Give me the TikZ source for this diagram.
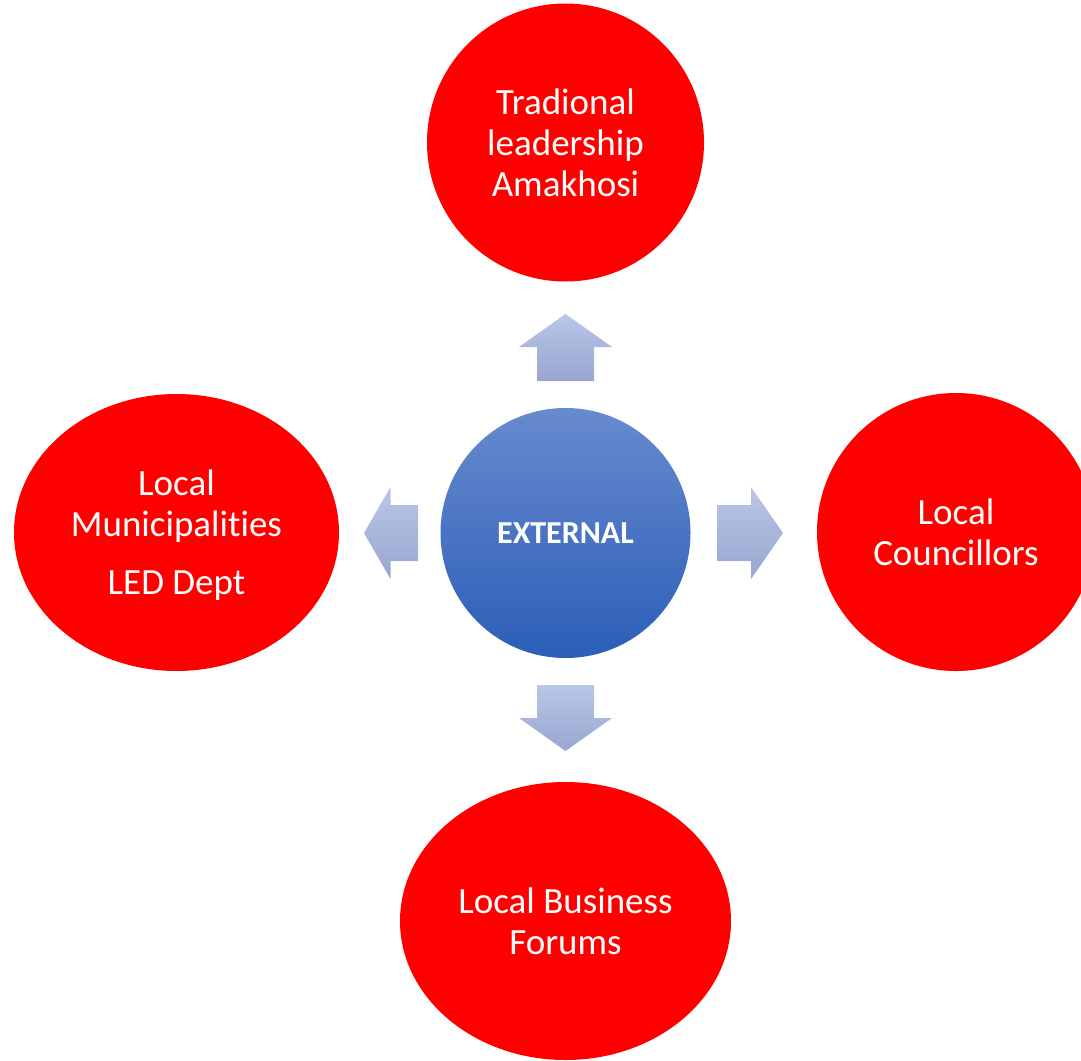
\documentclass[tikz,border=0pt]{standalone}
\usepackage{fontspec}
\setmainfont[Ligatures=NoCommon,RawFeature={-liga;-clig;-dlig}]{Carlito}
\usetikzlibrary{shapes.geometric}
\definecolor{ballred}{RGB}{255,0,0}
\definecolor{hubtop}{RGB}{104,138,206}
\definecolor{hubbot}{RGB}{44,94,184}
\definecolor{arrtop}{RGB}{186,198,232}
\definecolor{arrbot}{RGB}{152,166,208}
\tikzset{
  balltext/.style={text=white, align=center, inner sep=0pt, font=\fontsize{37}{41}\selectfont},
  redball/.style={ellipse, fill=ballred, draw=none, inner sep=0pt, outer sep=0pt, balltext},
  hub/.style={circle, draw=none, top color=hubtop, bottom color=hubbot,
    minimum size=250pt, inner sep=0pt, text=white, font=\fontsize{32}{36}\selectfont\bfseries},
  blockarrow/.style={draw=none, top color=arrtop, bottom color=arrbot}
}
\begin{document}
\begin{tikzpicture}[x=1pt,y=-1pt]
\useasboundingbox (0,0) rectangle (1081,1060);
\clip (0,0) rectangle (1081,1060);

% central hub
\node[hub] (ext) at (565.5,533) {EXTERNAL};

% surrounding stakeholder groups
\node[redball, minimum width=277pt, minimum height=278pt] (trad) at (565.5,142.5)
  {Tradional\\leadership\\Amakhosi};
\node[redball, minimum width=325pt, minimum height=277pt] (muni) at (176.5,532.5) {};
\node[balltext] (munitext) at ([yshift=-3pt]muni.center)
  {Local\\Municipalit\kern0pt ies\\[17pt]LED Dept};
\node[redball, minimum width=278pt, minimum height=278pt] (coun) at (956,532)
  {Local\\Councillors};
\node[redball, minimum width=331pt, minimum height=278pt] (bus) at (565.5,921)
  {Local Business\\Forums};

% block arrows pointing outward from the hub
\shade[blockarrow] (565.5,314) -- (612,347) -- (594,347) -- (594,381)
  -- (537,381) -- (537,347) -- (519,347) -- cycle;
\shade[blockarrow] (565.5,751) -- (612,718) -- (594,718) -- (594,685)
  -- (537,685) -- (537,718) -- (519,718) -- cycle;
\shade[blockarrow] (364,533) -- (390.5,487) -- (390.5,505) -- (418,505)
  -- (418,561) -- (390.5,561) -- (390.5,579) -- cycle;
\shade[blockarrow] (783,533) -- (751,487) -- (751,505) -- (717.5,505)
  -- (717.5,561) -- (751,561) -- (751,579) -- cycle;
\end{tikzpicture}
\end{document}
